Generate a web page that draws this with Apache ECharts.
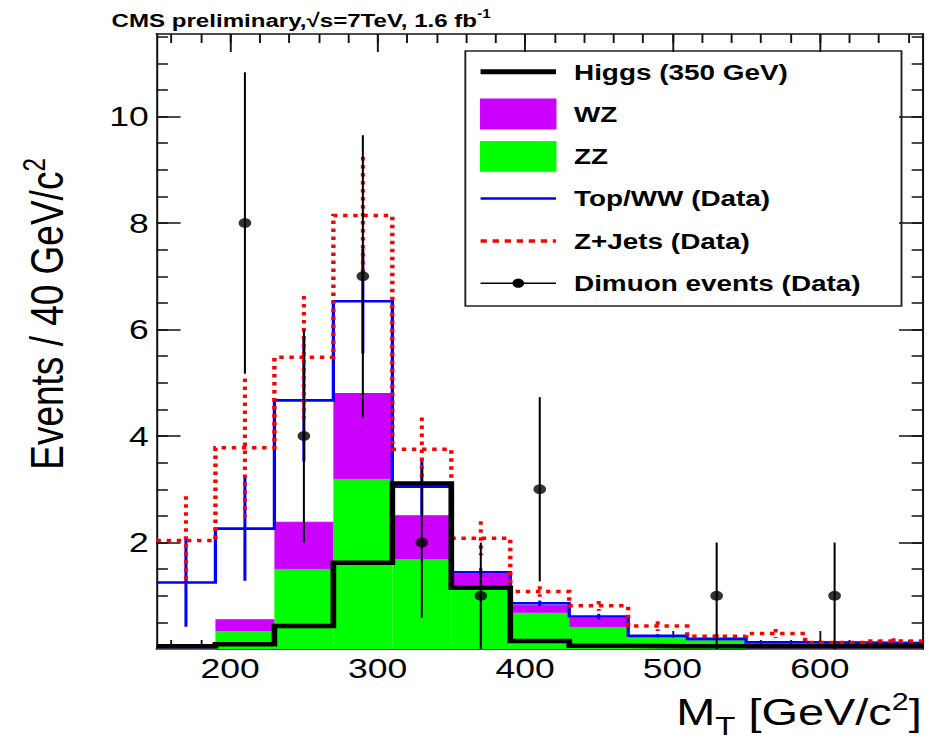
<!DOCTYPE html>
<html>
<head>
<meta charset="utf-8">
<title>MT distribution</title>
<script src="https://cdn.jsdelivr.net/npm/echarts@6/dist/echarts.min.js"></script>
<style>
  html, body { margin: 0; padding: 0; background: #fff; overflow: hidden; }
  #wrap { width: 937px; height: 739px; overflow: hidden; }
  /* square canvas, widened to the page width */
  #chart { width: 739px; height: 739px; transform: scaleX(1.26793); transform-origin: 0 0; }
</style>
</head>
<body>
<div id="wrap"><div id="chart"></div></div>
<script>
// ---- data: 40 GeV bins of the transverse mass ----
const binEdges = [150, 190, 230, 270, 310, 350, 390, 430, 470, 510, 550, 590, 630, 670];

// diboson contributions (stacked)
const zz = [0, 0.34, 1.50, 3.19, 1.68, 1.16, 0.68, 0.41, 0.21, 0.17, 0, 0, 0];
const wz = [0, 0.22, 0.89, 1.62, 0.83, 0.26, 0.15, 0.17, 0.03, 0.01, 0, 0, 0];

// running totals of the stack once the data-driven backgrounds are added
const topWWTotal = [1.25, 2.26, 4.67, 6.53, 3.05, 1.44, 0.86, 0.61, 0.25, 0.19, 0.125, 0.12, 0.11];
const topWWErr   = [0.83, 0.98, 1.15, 0.98, 0.53, 0.08, 0.05, 0.05, 0.03, 0.02, 0.02, 0.02, 0.02];
const zJetsTotal = [2.04, 3.78, 5.48, 8.14, 3.75, 2.08, 1.08, 0.81, 0.43, 0.24, 0.29, 0.12, 0.15];
const zJetsErr   = [0.83, 1.30, 1.15, 1.10, 0.60, 0.32, 0.10, 0.09, 0.09, 0.04, 0.085, 0.02, 0.05];

// signal hypothesis
const higgs = [0.05, 0.09, 0.43, 1.62, 3.11, 1.15, 0.15, 0.06, 0.05, 0.05, 0.05, 0.05, 0.05];

// observed dimuon events and their errors
const dimuon    = [0, 8, 4, 7, 2, 1, 3, 0, 0, 1, 0, 1, 0];
const dimuonErr = [0, 2.83, 2.00, 2.65, 1.41, 1.00, 1.73, 0, 0, 1.00, 0, 1.00, 0];

// axis ticks
const xMajorTicks = [200, 300, 400, 500, 600];
const xMinorTicks = [160, 180, 200, 220, 240, 260, 280, 300, 320, 340, 360, 380, 400,
                     420, 440, 460, 480, 500, 520, 540, 560, 580, 600, 620, 640, 660];
const yMajorTicks = [2, 4, 6, 8, 10];
const yMinorTicks = [0.5, 1, 1.5, 2, 2.5, 3, 3.5, 4, 4.5, 5, 5.5, 6, 6.5, 7, 7.5, 8,
                     8.5, 9, 9.5, 10, 10.5, 11, 11.5];

// ---- styling ----
const INK = '#111111';
const FONT = '"Liberation Sans", Arial, Helvetica, sans-serif';
const GREEN = '#00ff00', PURPLE = '#cc00ff', BLUE = '#0000ff', RED = '#ff0000';
const RED_DASH = [3.5, 4.5];

const nBins = binEdges.length - 1;
const binNames = binEdges.slice(0, nBins).map((lo, i) => lo + '-' + binEdges[i + 1]);
const binCenters = binEdges.slice(0, nBins).map((lo, i) => (lo + binEdges[i + 1]) / 2);

// histogram outline: one point per bin edge, drawn as a step line
function stepPoints(vals) {
  const pts = vals.map((v, i) => [binEdges[i], v]);
  pts.push([binEdges[nBins], vals[nBins - 1]]);
  return pts;
}
function errorPoints(vals, errs, skipEmpty) {
  const out = [];
  vals.forEach((v, i) => {
    if (!skipEmpty || v > 0) out.push([binCenters[i], v, errs[i]]);
  });
  return out;
}
function errorBar(style) {
  return function (params, api) {
    const x = api.value(0), v = api.value(1), e = api.value(2);
    const p1 = api.coord([x, v + e]);
    const p2 = api.coord([x, Math.max(v - e, 0)]);
    return {
      type: 'line',
      shape: { x1: p1[0], y1: p1[1], x2: p2[0], y2: p2[1] },
      style: style
    };
  };
}

// text width helper for composing the axis title pieces
const measureCtx = document.createElement('canvas').getContext('2d');
function textWidth(str, size) {
  measureCtx.font = size + 'px ' + FONT;
  return measureCtx.measureText(str).width;
}

// ---- axes: full frame with inward ticks on all four sides ----
const tickLine = { color: INK, width: 1.5 };
const frameLine = { show: true, onZero: false, lineStyle: { color: INK, width: 1.6 } };
const noLine = { show: false, onZero: false };
const labelStyle = { color: '#000', fontFamily: FONT, fontSize: 28 };

function xAxisDef(position, ticks, len, withLabels, withLine) {
  return {
    type: 'value', position: position, min: 150, max: 670,
    axisLine: withLine ? frameLine : noLine,
    axisTick: { show: true, inside: true, length: len, customValues: ticks, lineStyle: tickLine },
    axisLabel: withLabels
      ? Object.assign({ show: true, margin: 5, customValues: xMajorTicks }, labelStyle)
      : { show: false },
    splitLine: { show: false }, minorTick: { show: false }, minorSplitLine: { show: false }
  };
}
function yAxisDef(position, ticks, len, withLabels, withLine) {
  return {
    type: 'value', position: position, min: 0, max: 11.55,
    axisLine: withLine ? frameLine : noLine,
    axisTick: { show: true, inside: true, length: len, customValues: ticks, lineStyle: tickLine },
    axisLabel: withLabels
      ? Object.assign({ show: true, margin: 6, customValues: yMajorTicks }, labelStyle)
      : { show: false },
    splitLine: { show: false }, minorTick: { show: false }, minorSplitLine: { show: false }
  };
}

const xAxes = [
  xAxisDef('bottom', xMajorTicks, 18, true, true),
  xAxisDef('bottom', xMinorTicks, 9, false, false),
  xAxisDef('top', xMajorTicks, 18, false, true),
  xAxisDef('top', xMinorTicks, 9, false, false),
  { type: 'category', position: 'bottom', data: binNames, show: false, boundaryGap: true }
];
const yAxes = [
  yAxisDef('left', yMajorTicks, 19, true, true),
  yAxisDef('left', yMinorTicks, 9, false, false),
  yAxisDef('right', yMajorTicks, 19, false, true),
  yAxisDef('right', yMinorTicks, 9, false, false)
];

// ---- legend box ----
const legendRows = [
  { name: 'Higgs (350 GeV)', kind: 'line', color: '#000', width: 5 },
  { name: 'WZ', kind: 'box', color: PURPLE },
  { name: 'ZZ', kind: 'box', color: GREEN },
  { name: 'Top/WW (Data)', kind: 'line', color: BLUE, width: 2.5 },
  { name: 'Z+Jets (Data)', kind: 'dash', color: RED, width: 3.5 },
  { name: 'Dimuon events (Data)', kind: 'marker', color: '#000', width: 1.5 }
];
const LEG = { x: 367, y: 51, w: 344, h: 255, row0: 71.7, dy: 42.3, ix0: 379, ix1: 438.5, tx: 452.7 };
const legendChildren = [{
  type: 'rect',
  shape: { x: LEG.x, y: LEG.y, width: LEG.w, height: LEG.h },
  style: { fill: '#fff', stroke: '#222', lineWidth: 1.5 }
}];
legendRows.forEach((r, i) => {
  const cy = LEG.row0 + i * LEG.dy;
  if (r.kind === 'box') {
    legendChildren.push({ type: 'rect', shape: { x: LEG.ix0, y: cy - 15, width: LEG.ix1 - LEG.ix0, height: 30 },
      style: { fill: r.color, stroke: r.color, lineWidth: 0.8 } });
  } else {
    legendChildren.push({ type: 'line', shape: { x1: LEG.ix0, y1: cy, x2: LEG.ix1, y2: cy },
      style: { stroke: r.color, lineWidth: r.width, lineDash: r.kind === 'dash' ? [5, 4.5] : null } });
    if (r.kind === 'marker') {
      legendChildren.push({ type: 'circle', shape: { cx: (LEG.ix0 + LEG.ix1) / 2, cy: cy, r: 4.6 },
        style: { fill: '#000' } });
    }
  }
  legendChildren.push({ type: 'text', x: LEG.tx, y: cy,
    style: { text: r.name, fill: '#000', fontFamily: FONT, fontWeight: 'bold', fontSize: 22,
             align: 'left', verticalAlign: 'middle' } });
});

// ---- titles ----
const TITLE_SIZE = 37, SUP_SIZE = 24, SUB_SIZE = 26;
const supRich = { sup: { fontFamily: FONT, fontSize: SUP_SIZE, lineHeight: 20, verticalAlign: 'top', fill: '#000' } };

// x title "M_T [GeV/c^2]", right-aligned to the frame, built from pieces
const xTitleRight = 727, xTitleY = 712;
const unitWidth = textWidth(' [GeV/c', TITLE_SIZE) + textWidth('2', SUP_SIZE) + textWidth(']', TITLE_SIZE);
const subWidth = textWidth('T', SUB_SIZE);

function plainText(str, x, y, size, align) {
  return { type: 'text', x: x, y: y,
    style: { text: str, fill: '#000', fontFamily: FONT, fontSize: size, align: align, verticalAlign: 'middle' } };
}

const titleGraphics = [
  { type: 'text', x: 88, y: 20,
    style: { text: 'CMS preliminary,√s=7TeV, 1.6 fb{sup|-1}', fill: '#000', fontFamily: FONT,
             fontWeight: 'bold', fontSize: 19, lineHeight: 24, align: 'left', verticalAlign: 'middle',
             rich: { sup: { fontFamily: FONT, fontWeight: 'bold', fontSize: 12, lineHeight: 12,
                            verticalAlign: 'top', fill: '#000' } } } },
  { type: 'text', x: xTitleRight, y: xTitleY,
    style: { text: ' [GeV/c{sup|2}]', fill: '#000', fontFamily: FONT, fontSize: TITLE_SIZE,
             lineHeight: 44, align: 'right', verticalAlign: 'middle', rich: supRich } },
  plainText('T', xTitleRight - unitWidth, xTitleY + 14, SUB_SIZE, 'right'),
  plainText('M', xTitleRight - unitWidth - subWidth, xTitleY, TITLE_SIZE, 'right'),
  { type: 'text', x: 37, y: 314, rotation: Math.PI / 2,
    style: { text: 'Events / 40 GeV/c{sup|2}', fill: '#000', fontFamily: FONT, fontSize: TITLE_SIZE,
             lineHeight: 44, align: 'center', verticalAlign: 'middle', rich: supRich } }
];

const option = {
  animation: false,
  backgroundColor: '#fff',
  grid: { left: 123.4, right: 11, top: 34, bottom: 90, containLabel: false, outerBoundsMode: 'none' },
  xAxis: xAxes,
  yAxis: yAxes,
  graphic: [{ type: 'group', silent: true, children: legendChildren.concat(titleGraphics) }],
  series: [
    { name: 'ZZ', type: 'bar', xAxisIndex: 4, yAxisIndex: 0, stack: 'diboson', barWidth: '100%',
      data: zz, silent: true, z: 1,
      itemStyle: { color: GREEN, borderColor: GREEN, borderWidth: 1 } },
    { name: 'WZ', type: 'bar', xAxisIndex: 4, yAxisIndex: 0, stack: 'diboson', barWidth: '100%',
      data: wz, silent: true, z: 1,
      itemStyle: { color: PURPLE, borderColor: PURPLE, borderWidth: 1 } },
    { name: 'Top/WW (Data)', type: 'line', xAxisIndex: 0, yAxisIndex: 0, step: 'end',
      data: stepPoints(topWWTotal), symbol: 'none', silent: true, z: 3,
      lineStyle: { color: BLUE, width: 2.6, cap: 'butt', join: 'miter' } },
    { name: 'Top/WW errors', type: 'custom', xAxisIndex: 0, yAxisIndex: 0, silent: true, z: 3,
      data: errorPoints(topWWTotal, topWWErr, false), clip: true,
      renderItem: errorBar({ stroke: BLUE, lineWidth: 2.4 }) },
    { name: 'Z+Jets (Data)', type: 'line', xAxisIndex: 0, yAxisIndex: 0, step: 'end',
      data: stepPoints(zJetsTotal), symbol: 'none', silent: true, z: 4,
      lineStyle: { color: RED, width: 3.5, type: RED_DASH, cap: 'butt', join: 'miter' } },
    { name: 'Z+Jets errors', type: 'custom', xAxisIndex: 0, yAxisIndex: 0, silent: true, z: 4,
      data: errorPoints(zJetsTotal, zJetsErr, false), clip: true,
      renderItem: errorBar({ stroke: RED, lineWidth: 3.2, lineDash: RED_DASH }) },
    { name: 'Higgs (350 GeV)', type: 'line', xAxisIndex: 0, yAxisIndex: 0, step: 'end',
      data: stepPoints(higgs), symbol: 'none', silent: true, z: 5,
      lineStyle: { color: '#000', width: 4.5, cap: 'butt', join: 'miter' } },
    { name: 'Dimuon errors', type: 'custom', xAxisIndex: 0, yAxisIndex: 0, silent: true, z: 6,
      data: errorPoints(dimuon, dimuonErr, true), clip: true,
      renderItem: errorBar({ stroke: '#000', lineWidth: 1.6 }) },
    { name: 'Dimuon events (Data)', type: 'scatter', xAxisIndex: 0, yAxisIndex: 0, silent: true, z: 7,
      data: errorPoints(dimuon, dimuonErr, true).map(p => [p[0], p[1]]),
      symbol: 'circle', symbolSize: 10, itemStyle: { color: '#000' } }
  ]
};

const chart = echarts.init(document.getElementById('chart'), null, { renderer: 'svg' });
chart.setOption(option);
</script>
</body>
</html>
